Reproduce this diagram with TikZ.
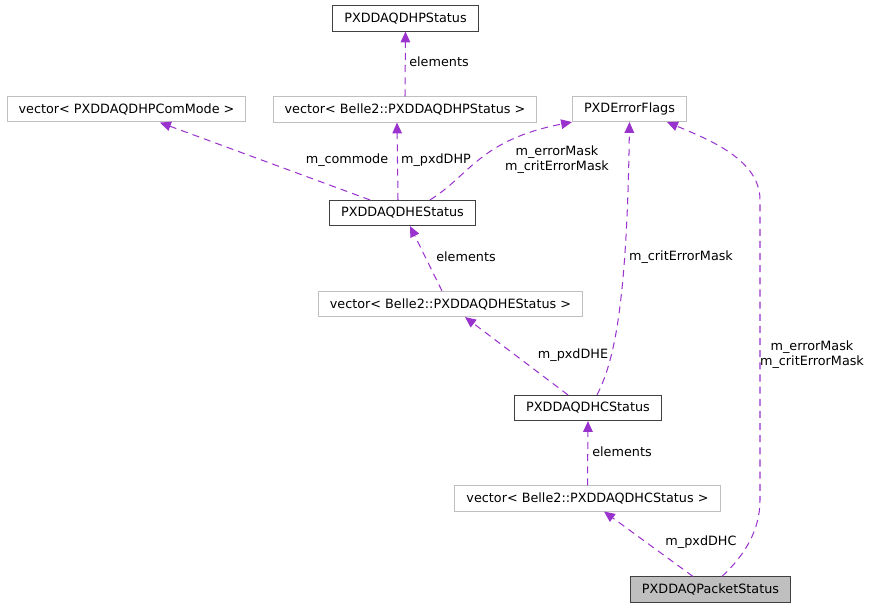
\documentclass[tikz,border=0pt]{standalone}
\usepackage{fontspec}
\setmainfont{DejaVu Sans}
\usepackage{tikz}
\usetikzlibrary{arrows.meta, positioning}
\definecolor{EdgePurple}{HTML}{9A32CD}
\definecolor{BoxGray}{HTML}{BFBFBF}
\definecolor{BoxDark}{HTML}{404040}
\tikzset{
  classbox/.style={rectangle, draw=BoxDark, line width=0.8pt, fill=white, minimum height=0.69cm, inner xsep=9pt, font=\fontsize{10}{12}\selectfont},
  extbox/.style={rectangle, draw=BoxGray, line width=0.8pt, fill=white, minimum height=0.69cm, inner xsep=9pt, font=\fontsize{10}{12}\selectfont},
  mainbox/.style={classbox, fill=BoxGray},
  usearrow/.style={-{Triangle[length=8.5pt, width=7.5pt]}, EdgePurple, line width=0.8pt, dash pattern=on 5.5pt off 4pt},
  edgelabel/.style={font=\fontsize{10}{11.7}\selectfont, align=center, inner sep=0pt}
}
\begin{document}
\begin{tikzpicture}[x=0.0275cm, y=-0.0275cm]
  \useasboundingbox (0,0) rectangle (872,608);

  % Classes
  \node[classbox] (dhp) at (405.5,18.5) {PXDDAQDHPStatus};
  \node[extbox] (dhpvec) at (405,109.5) {vector< Belle2::PXDDAQDHPStatus >};
  \node[extbox] (commode) at (126.5,109) {vector< PXDDAQDHPComMode >};
  \node[extbox] (errflags) at (629.5,109) {PXDErrorFlags};
  \node[classbox] (dhe) at (402.5,213) {PXDDAQDHEStatus};
  \node[extbox] (dhevec) at (450.5,304) {vector< Belle2::PXDDAQDHEStatus >};
  \node[classbox] (dhc) at (588,408) {PXDDAQDHCStatus};
  \node[extbox] (dhcvec) at (587.5,498.5) {vector< Belle2::PXDDAQDHCStatus >};
  \node[mainbox] (packet) at (710.5,589.5) {PXDDAQPacketStatus};

  % Usage edges
  \draw[usearrow] (dhpvec.north) -- (dhp.south);
  \draw[usearrow] (dhe.north -| 398,0) -- (dhpvec.south -| 397,0);
  \draw[usearrow] (dhe.north -| 370,0) -- (dhpvec.south -| 160,0);
  \draw[usearrow] (dhe.north -| 430,0) .. controls (470,175) and (480,140) .. (errflags.south west);
  \draw[usearrow] (dhevec.north -| 442,0) -- (dhe.south -| 410,0);
  \draw[usearrow] (dhc.north -| 568,0) -- (dhevec.south -| 465,0);
  \draw[usearrow] (dhc.north -| 597,0) .. controls (615,360) and (627,300) .. (errflags.south);
  \draw[usearrow] (dhcvec.north) -- (dhc.south);
  \draw[usearrow] (packet.north -| 693,0) -- (dhcvec.south -| 604,0);
  \draw[usearrow] (packet.north -| 722,0) .. controls (745,555) and (760,530) .. (760,500)
    -- (760,200) .. controls (760,160) and (710,140) .. (errflags.south -| 667,0);

  % Labels
  \node[edgelabel] (lbdhp) at (439,62) {elements};
  \node[edgelabel] (lbpxddhp) at (436,160) {m\_pxdDHP};
  \node[edgelabel] (lbcommode) at (347,160) {m\_commode};
  \node[edgelabel] (lbmaskdhe) at (557,160) {m\_errorMask\\m\_critErrorMask};
  \node[edgelabel] (lbdhe) at (466,257) {elements};
  \node[edgelabel] (lbpxddhe) at (573,355) {m\_pxdDHE};
  \node[edgelabel] (lbcritdhc) at (681,257) {m\_critErrorMask};
  \node[edgelabel] (lbmaskpkt) at (812,355) {m\_errorMask\\m\_critErrorMask};
  \node[edgelabel] (lbdhc) at (622,452) {elements};
  \node[edgelabel] (lbpxddhc) at (701,542) {m\_pxdDHC};
\end{tikzpicture}
\end{document}
